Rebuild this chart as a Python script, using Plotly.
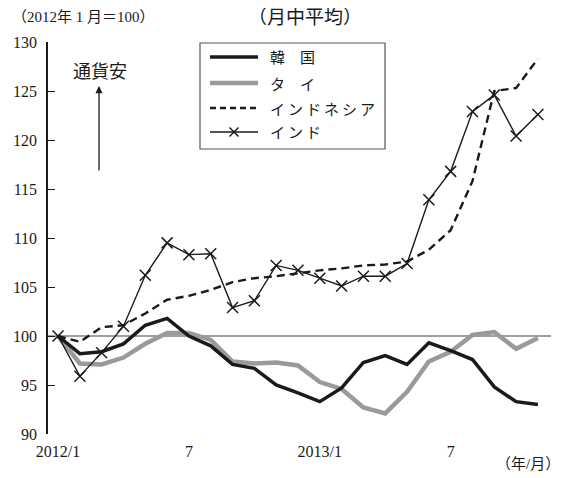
import plotly.graph_objects as go

# ---------------- data ----------------
months = ["2012/1", "2012/2", "2012/3", "2012/4", "2012/5", "2012/6", "2012/7", "2012/8",
          "2012/9", "2012/10", "2012/11", "2012/12", "2013/1", "2013/2", "2013/3", "2013/4",
          "2013/5", "2013/6", "2013/7", "2013/8", "2013/9", "2013/10", "2013/11"]
korea = [100, 98.2, 98.4, 99.2, 101.1, 101.8, 100.0, 99.0, 97.1, 96.7, 95.0, 94.2,
         93.3, 94.7, 97.3, 98.0, 97.1, 99.3, 98.5, 97.6, 94.8, 93.3, 93.0]
thai = [100, 97.2, 97.1, 97.8, 99.2, 100.3, 100.3, 99.6, 97.4, 97.2, 97.3, 97.0,
        95.3, 94.6, 92.7, 92.1, 94.3, 97.4, 98.4, 100.1, 100.4, 98.7, 99.8]
indonesia = [100, 99.4, 100.9, 101.1, 102.3, 103.7, 104.1, 104.7, 105.5, 105.9, 106.1, 106.4,
             106.7, 106.9, 107.2, 107.3, 107.6, 108.8, 110.8, 115.8, 125.0, 125.3, 128.3]
india = [100, 95.9, 98.3, 101.0, 106.2, 109.5, 108.3, 108.4, 102.9, 103.6, 107.2, 106.7,
         105.9, 105.1, 106.1, 106.1, 107.4, 113.9, 116.8, 122.9, 124.6, 120.4, 122.6]
names = ["韓\u3000国", "タ\u3000イ", "イ\u2009ン\u2009ド\u2009ネ\u2009シ\u2009ア", "イ\u2009ン\u2009ド"]
tick_pos = [0, 6, 12, 18]
tick_text = ["2012/1", "7", "2013/1", "7"]
y_ticks = [90, 95, 100, 105, 110, 115, 120, 125, 130]

x = list(range(len(months)))

W, H = 566, 478
OFF = 8  # page body margin offset
# plot area in page pixels: x 48..551, y 42..434
L, R, T, B = 48 - OFF, W - (551 - OFF), 42 - OFF, H - (434 - OFF)
PW, PH = W - L - R, H - T - B


def px(xp):
    return (xp - OFF - L) / PW


def py(yp):
    return (H - B - (yp - OFF)) / PH


FONT = "Liberation Serif, 'Noto Sans CJK JP', serif"
BLACK = "#1a1a1a"
GRAY = "#9a9a9a"

styles = [
    dict(color=BLACK, width=3.5, dash="solid"),
    dict(color=GRAY, width=4.5, dash="solid"),
    dict(color=BLACK, width=2.4, dash="8px,5px"),
    dict(color=BLACK, width=1.4, dash="solid"),
]

fig = go.Figure()
# draw order: thai, korea, indonesia, india
fig.add_trace(go.Scatter(x=x, y=thai, mode="lines", line=styles[1], name=names[1],
                         showlegend=False))
fig.add_trace(go.Scatter(x=x, y=korea, mode="lines", line=styles[0], name=names[0],
                         showlegend=False))
fig.add_trace(go.Scatter(x=x, y=indonesia, mode="lines", line=styles[2], name=names[2],
                         showlegend=False))
fig.add_trace(go.Scatter(x=x, y=india, mode="lines+markers", line=styles[3], name=names[3],
                         marker=dict(symbol="x-thin", size=11,
                                     line=dict(width=1.5, color=BLACK)),
                         showlegend=False))

shapes = []
# reference line at 100
shapes.append(dict(type="line", xref="paper", yref="y", x0=0, x1=1, y0=100, y1=100,
                   line=dict(color="#808080", width=1.5), layer="below"))

# manual legend
shapes.append(dict(type="rect", xref="paper", yref="paper",
                   x0=px(200), x1=px(385), y0=py(43), y1=py(149),
                   line=dict(color="#555555", width=1.2), fillcolor="white"))
rows = [57, 83, 108, 132]
annotations = []
for i, yr in enumerate(rows):
    st = styles[i]
    shapes.append(dict(type="line", xref="paper", yref="paper",
                       x0=px(210), x1=px(258), y0=py(yr), y1=py(yr),
                       line=dict(color=st["color"], width=st["width"],
                                 dash=("6px,4px" if st["dash"] != "solid" else "solid"))))
    annotations.append(dict(xref="paper", yref="paper", x=px(268), y=py(yr),
                            text=names[i], showarrow=False, xanchor="left",
                            yanchor="middle",
                            font=dict(family="'Noto Sans CJK JP'", size=15, color=BLACK)))
# X marker in legend for India
cx, cy, d = 234, rows[3], 4.5
shapes.append(dict(type="line", xref="paper", yref="paper", x0=px(cx - d), x1=px(cx + d),
                   y0=py(cy - d), y1=py(cy + d), line=dict(color=BLACK, width=1.5)))
shapes.append(dict(type="line", xref="paper", yref="paper", x0=px(cx - d), x1=px(cx + d),
                   y0=py(cy + d), y1=py(cy - d), line=dict(color=BLACK, width=1.5)))

# texts
annotations += [
    dict(xref="paper", yref="paper", x=px(10), y=py(17), text="（2012年 1 月＝100）",
         showarrow=False, xanchor="left", yanchor="middle",
         font=dict(family=FONT, size=15, color=BLACK)),
    dict(xref="paper", yref="paper", x=px(305), y=py(18), text="（月中平均）",
         showarrow=False, xanchor="center", yanchor="middle",
         font=dict(family=FONT, size=19, color=BLACK)),
    dict(xref="paper", yref="paper", x=px(100), y=py(72), text="通貨安",
         showarrow=False, xanchor="center", yanchor="middle",
         font=dict(family=FONT, size=18, color=BLACK)),
    dict(xref="paper", yref="paper", x=px(99), y=py(86), text="",
         showarrow=True, arrowhead=2, arrowsize=1.1, arrowwidth=1.3, arrowcolor=BLACK,
         ax=0, ay=86, axref="pixel", ayref="pixel"),
    dict(xref="paper", yref="paper", x=px(528), y=py(464), text="（年/月）",
         showarrow=False, xanchor="center", yanchor="middle",
         font=dict(family=FONT, size=15, color=BLACK)),
]

fig.update_layout(
    width=W, height=H,
    margin=dict(l=L, r=R, t=T, b=B, pad=0, autoexpand=False),
    paper_bgcolor="white", plot_bgcolor="white",
    font=dict(family=FONT, size=16, color=BLACK),
    showlegend=False,
    shapes=shapes,
    annotations=annotations,
    xaxis=dict(range=[-0.46, 22.6], showline=False, showgrid=False, zeroline=False,
               automargin=False,
               ticks="", tickvals=tick_pos, ticktext=tick_text,
               tickfont=dict(family=FONT, size=16, color=BLACK),
               ticklabelstandoff=6),
    yaxis=dict(range=[90, 130], showline=True, linecolor=BLACK, linewidth=1.5,
               automargin=False,
               showgrid=False, zeroline=False, ticks="inside", ticklen=7,
               tickcolor=BLACK, tickwidth=1.3, tickvals=y_ticks,
               tickfont=dict(family=FONT, size=16, color=BLACK),
               ticklabelstandoff=6),
)

fig.write_html("out.html")
